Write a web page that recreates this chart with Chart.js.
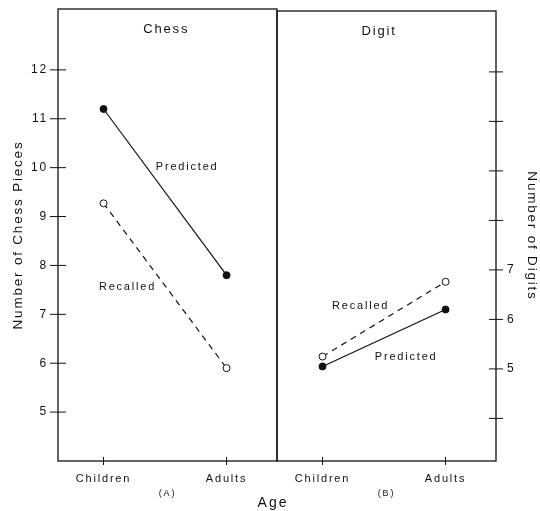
<!DOCTYPE html>
<html>
<head>
<meta charset="utf-8">
<script src="https://cdn.jsdelivr.net/npm/chart.js@4.4.1/dist/chart.umd.min.js"></script>
<style>
  html, body { margin: 0; background: #fff; }
  #wrap { position: relative; width: 540px; height: 511px; background: #fff; }
  #wrap canvas { position: absolute; top: 0; }
  #chessChart { left: 0; }
  #digitChart { left: 274px; }
  #age {
    position: absolute; left: 273px; top: 494px; transform: translateX(-50%);
    font: 14px 'Liberation Sans', Arial, sans-serif; line-height: 16px;
    letter-spacing: 2px; color: #111;
  }
</style>
</head>
<body>
<div id="wrap">
  <canvas id="chessChart" width="280" height="511"></canvas>
  <canvas id="digitChart" width="266" height="511"></canvas>
  <div id="age">Age</div>
</div>
<script>
// data
const ageGroups = ['Children', 'Adults'];
const chessPredicted = [11.2, 7.8];
const chessRecalled = [9.27, 5.9];
const digitPredicted = [5.05, 6.2];
const digitRecalled = [5.25, 6.76];
const chessTicks = [5, 6, 7, 8, 9, 10, 11, 12];
const digitTicks = [4, 5, 6, 7, 8, 9, 10, 11];
const digitTickLabels = ['', '5', '6', '7', '', '', '', ''];

const ink = '#111';
Chart.defaults.font.family = "'Liberation Sans', Arial, sans-serif";
Chart.defaults.color = ink;

const toPoints = values => values.map((v, i) => ({ x: i, y: v }));

// spaced-out lettering like the scanned figure
const spacing = {
  id: 'spacing',
  beforeDraw(chart) { chart.ctx.letterSpacing = '1.8px'; }
};

// box round the plot area and ticks that cross the axis lines
const frame = {
  id: 'frame',
  beforeDatasetsDraw(chart, args, opts) {
    const { ctx, chartArea: a, scales } = chart;
    ctx.save();
    ctx.strokeStyle = ink;
    ctx.lineWidth = 1.3;
    ctx.strokeRect(a.left, a.top, a.right - a.left, a.bottom - a.top);
    ctx.lineWidth = 1;
    ctx.beginPath();
    const ax = opts.side === 'right' ? a.right : a.left;
    scales.y.ticks.forEach(t => {
      const py = scales.y.getPixelForValue(t.value);
      ctx.moveTo(ax - opts.yTick, py);
      ctx.lineTo(ax + opts.yTick, py);
    });
    scales.x.ticks.forEach(t => {
      const px = scales.x.getPixelForValue(t.value);
      ctx.moveTo(px, a.bottom - 4);
      ctx.lineTo(px, a.bottom + 4);
    });
    ctx.stroke();
    ctx.restore();
  }
};

// text written inside the panels, placed in data units
const notes = {
  id: 'notes',
  afterDatasetsDraw(chart, args, opts) {
    const { ctx, scales } = chart;
    ctx.save();
    ctx.fillStyle = ink;
    ctx.textAlign = 'center';
    ctx.textBaseline = 'middle';
    ctx.letterSpacing = '1.8px';
    opts.items.forEach(n => {
      ctx.font = n.size + "px 'Liberation Sans', Arial, sans-serif";
      ctx.fillText(n.text, scales.x.getPixelForValue(n.x), scales.y.getPixelForValue(n.y));
    });
    ctx.restore();
  }
};

// fixed axis sizes, no extra room reserved for the outer tick labels
function fixSize(w, h) {
  return s => {
    if (w) s.width = w;
    if (h) s.height = h;
    s.paddingTop = s.paddingBottom = s.paddingLeft = s.paddingRight = 0;
  };
}

function lineSet(label, values, dashed) {
  return {
    label,
    data: toPoints(values),
    borderColor: ink,
    borderWidth: 1.2,
    borderDash: dashed ? [6, 5] : [],
    pointRadius: 3.5,
    pointBorderWidth: 1,
    pointBorderColor: ink,
    pointBackgroundColor: dashed ? '#fff' : ink
  };
}

function xScale(panel) {
  return {
    type: 'linear',
    min: -0.37,
    max: 1.41,
    grid: { display: false, drawTicks: false },
    border: { display: false },
    afterBuildTicks: s => { s.ticks = ageGroups.map((_, i) => ({ value: i })); },
    afterFit: fixSize(0, 50),
    ticks: { padding: 11, font: { size: 11 }, callback: v => ageGroups[v] },
    title: { display: true, text: panel, font: { size: 9 }, padding: { bottom: 12 } }
  };
}

const common = {
  type: 'line',
  options: {
    responsive: false,
    animation: false,
    plugins: { legend: { display: false }, tooltip: { enabled: false } }
  },
  plugins: [spacing, frame, notes]
};

const chessChart = new Chart(document.getElementById('chessChart').getContext('2d'), {
  ...common,
  data: {
    datasets: [
      lineSet('Predicted', chessPredicted, false),
      lineSet('Recalled', chessRecalled, true)
    ]
  },
  options: {
    ...common.options,
    layout: { autoPadding: false, padding: { left: 0, right: 3, top: 9, bottom: 0 } },
    scales: {
      x: xScale('(A)'),
      y: {
        type: 'linear',
        min: 4,
        max: 13.245,
        grid: { display: false, drawTicks: false },
        border: { display: false },
        afterBuildTicks: s => { s.ticks = chessTicks.map(v => ({ value: v })); },
        afterFit: fixSize(58, 0),
        ticks: { padding: 10, font: { size: 12 } },
        title: { display: true, text: 'Number of Chess Pieces', font: { size: 13.5 }, padding: { top: 10 } }
      }
    },
    plugins: {
      ...common.options.plugins,
      frame: { side: 'left', yTick: 8 },
      notes: {
        items: [
          { text: 'Chess', x: 0.51, y: 12.82, size: 13 },
          { text: 'Predicted', x: 0.68, y: 10.02, size: 11 },
          { text: 'Recalled', x: 0.195, y: 7.55, size: 11 }
        ]
      }
    }
  }
});

const digitChart = new Chart(document.getElementById('digitChart').getContext('2d'), {
  ...common,
  data: {
    datasets: [
      lineSet('Predicted', digitPredicted, false),
      lineSet('Recalled', digitRecalled, true)
    ]
  },
  options: {
    ...common.options,
    layout: { autoPadding: false, padding: { left: 3, right: 0, top: 11, bottom: 0 } },
    scales: {
      x: xScale('(B)'),
      y: {
        type: 'linear',
        position: 'right',
        min: 3.14,
        max: 12.23,
        grid: { display: false, drawTicks: false },
        border: { display: false },
        afterBuildTicks: s => { s.ticks = digitTicks.map(v => ({ value: v })); },
        afterFit: fixSize(44, 0),
        ticks: {
          padding: 11,
          font: { size: 12 },
          callback: (v, i) => digitTickLabels[i]
        },
        title: { display: true, text: 'Number of Digits', font: { size: 13.5 }, padding: { top: 0 } }
      }
    },
    plugins: {
      ...common.options.plugins,
      frame: { side: 'right', yTick: 7 },
      notes: {
        items: [
          { text: 'Digit', x: 0.46, y: 11.81, size: 13 },
          { text: 'Recalled', x: 0.31, y: 6.27, size: 11 },
          { text: 'Predicted', x: 0.68, y: 5.24, size: 11 }
        ]
      }
    }
  }
});
</script>
</body>
</html>
